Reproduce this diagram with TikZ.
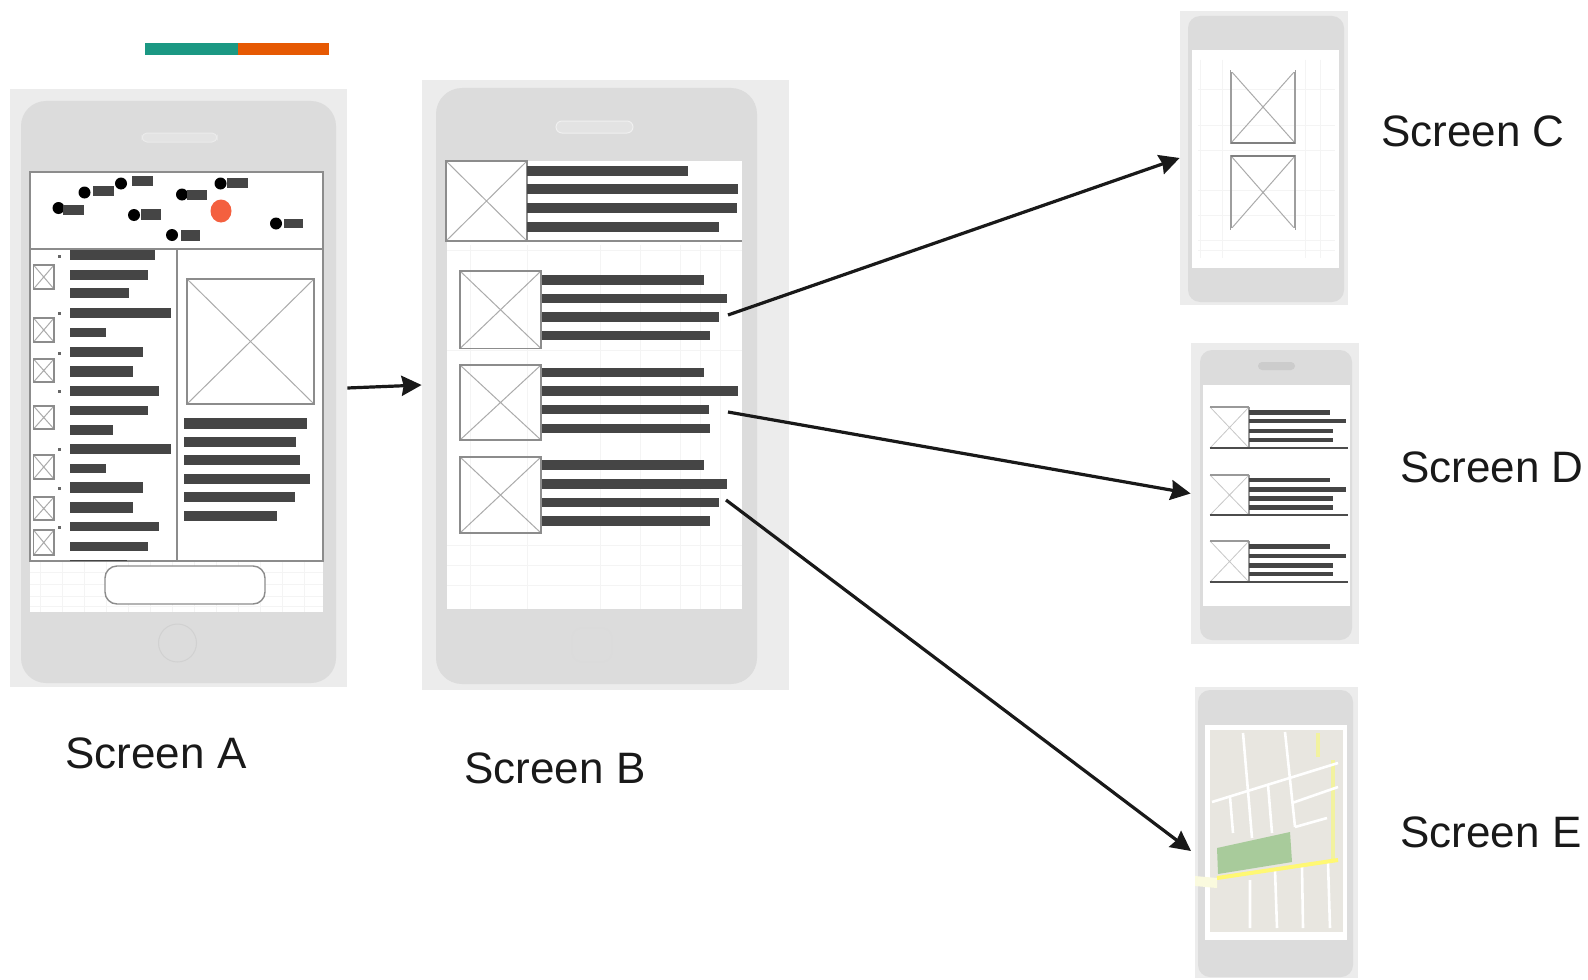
\documentclass[tikz,border=0pt]{standalone}
\usepackage{fontspec}
\setmainfont{Liberation Sans}
\usetikzlibrary{arrows.meta}
\definecolor{barc}{HTML}{454545}
\definecolor{bgc}{HTML}{ECECEC}
\definecolor{bodyc}{HTML}{DCDCDC}
\definecolor{edgec}{HTML}{8C8C8C}
\definecolor{diagc}{HTML}{ABABAB}
\definecolor{gridc}{HTML}{F4F4F4}
\definecolor{mapc}{HTML}{E8E6E0}
\definecolor{parkc}{HTML}{A8CB9B}
\definecolor{yellowc}{HTML}{F2F2A0}
\definecolor{pinred}{HTML}{F4603F}
\newcommand{\tbar}[4]{\fill[barc] (#1,#3) rectangle (#2,#4);}
\newcommand{\xbox}[5][edgec]{%
  \draw[line width=0.5pt,diagc] (#2,#3) -- (#4,#5) (#2,#5) -- (#4,#3);
  \draw[line width=0.7pt,#1] (#2,#3) rectangle (#4,#5);}
\newcommand{\pin}[6]{\fill[black] (#1,#2) circle (6);\fill[barc] (#3,#5) rectangle (#4,#6);}
\newcommand{\shell}[9]{% name, centre, size; radius, body corners; white screen
  \node[screenbg,minimum width=#4,minimum height=#5] (#1) at (#2,#3) {};
  \fill[bodyc,rounded corners=#6] #7 rectangle #8;
  \fill[white] #9;}
\tikzset{
  x=0.5pt,y=-0.5pt,
  screenbg/.style={rectangle,fill=bgc,draw=none,inner sep=0pt},
  flow/.style={line width=1.6pt,draw=black!90,-{Stealth[length=10pt,width=10pt,inset=1pt]}},
  caption/.style={font=\fontsize{22pt}{26pt}\selectfont,text=black!90,inner sep=0pt},
  strip/.style={draw=none,inner sep=0pt,minimum height=6pt},
  road/.style={draw=white,line width=1.3pt},
  faint/.style={draw=gridc,line width=0.5pt}
}
\begin{document}
\begin{tikzpicture}
\useasboundingbox (0,0) rectangle (1588,979);
% accent strip
\node[strip,fill={rgb,255:red,27;green,152;blue,131},minimum width=46.5pt,anchor=west] (stripT) at (145,49) {};
\node[strip,fill={rgb,255:red,230;green,89;blue,3},minimum width=45.5pt,anchor=west] (stripO) at (238,49) {};

%% ---------- Screen A
\shell{screenA}{178.5}{388}{168.5pt}{299pt}{12.5pt}{(21,101)}{(336,683)}{(30,172) rectangle (323,612)}
\draw[faint] \foreach \x in {40,62,84,106,128,150,172,194,216,238,260,282,304} {(\x,562) -- (\x,612)}
  \foreach \y in {572,584,596,606} {(30,\y) -- (323,\y)};
\draw[line width=0.5pt,draw=black!8,fill=black!11,rounded corners=2.5pt] (142,133) rectangle (217,142);
\draw[line width=0.5pt,draw=black!18] (177.5,643) circle (19);
\draw[line width=0.8pt,edgec] (30,172) rectangle (323,249) (30,249) rectangle (323,561) (177,249) -- (177,561);
\pin{58.5}{208}{63}{84}{204.5}{214.5}
\pin{84.5}{192.5}{93}{114}{186}{196}
\pin{121}{183.5}{131.5}{153}{176}{186}
\pin{182}{194.5}{187}{207}{190}{200}
\pin{220.5}{183.5}{227}{248}{178}{188}
\pin{134}{215}{141}{161}{209}{220}
\pin{172}{235}{181}{200}{230}{241}
\pin{276}{223.5}{284}{303}{219}{228}
\fill[pinred] (221,211) ellipse (10.5 and 11.5);
\foreach \a/\b/\c in {155/250/260,148/270/280,129/288/298,171/308/318,106/328/337,143/347/357,133/366/377,159/386/396,148/406/415,113/425/435,171/444/454,106/464/473,143/482/493,133/502/513,159/522/531,148/542/551,127/560/561}
  {\tbar{70}{\a}{\b}{\c}}
\foreach \a/\b in {265/289,318/342,359/382,406/429,455/479,497/520,530/555}
  {\xbox{33.5}{\a}{54}{\b}}
\foreach \a in {256,313,353,391,449,488,527}
  {\fill[black!60] (57.5,\a-1.5) rectangle (60.5,\a+1.5);}
\xbox{187}{279}{314}{404}
\foreach \a/\b/\c in {307/418/429,296/437/447,300/455/465,310/474/484,295/492/502,277/511/521}
  {\tbar{184}{\a}{\b}{\c}}
\draw[line width=0.7pt,edgec,fill=white,rounded corners=6pt] (105,566) rectangle (265,604);

%% ---------- Screen B
\shell{screenB}{605.5}{385}{183.5pt}{305pt}{13pt}{(436,88)}{(757,684)}{(447,161) rectangle (742,609)}
\draw[faint] \foreach \x in {470,527,600,640,680,700,720} {(\x,245) -- (\x,609)}
  \foreach \y in {250,350,545,565,585} {(447,\y) -- (742,\y)};
\draw[line width=0.5pt,draw=black!6,fill=black!11,rounded corners=3pt] (556,121) rectangle (633,133);
\draw[line width=0.5pt,draw=black!14,rounded corners=5pt] (572,628) rectangle (612,662);
\xbox{446}{161}{527}{241}
\draw[line width=0.7pt,edgec] (527,241) -- (742,241);
\foreach \a/\b/\c in {688/166/176,738/184/194,737/203/213,719/222/232}
  {\tbar{527}{\a}{\b}{\c}}
\foreach \a/\b/\c in {704/275/284.5,727/294/303,719/312/322,710/330.5/340,
  704/368/377,738/386/396,709/404.5/414,710/424/433,
  704/460/469.5,727/479/489,719/497.5/507,710/516/526}
  {\tbar{541}{\a}{\b}{\c}}
\xbox{460}{271}{541}{348.5}
\xbox{460}{365}{541}{440}
\xbox{460}{457}{541}{533}

%% ---------- Screen C
\shell{screenC}{1264}{158}{84pt}{147pt}{6pt}{(1188,16)}{(1344,302)}{(1192,50) rectangle (1339,268)}
\draw[faint] \foreach \x in {1200,1222,1305,1320} {(\x,60) -- (\x,258)}
  \foreach \y in {90,125,150,190,215,240,250} {(1198,\y) -- (1335,\y)};
\xbox[black!38]{1231}{71}{1295}{143}
\xbox[black!38]{1231}{156}{1295}{229}
\draw[line width=0.9pt,black!50] (1231,143) -- (1295,143) (1231,156) -- (1295,156);
\draw[line width=0.9pt,white] (1231,71) -- (1295,71) (1231,229) -- (1295,229);

%% ---------- Screen D
\shell{screenD}{1275}{493.5}{84pt}{150.5pt}{6pt}{(1200,350)}{(1352,640)}{(1203,385) rectangle (1350,606)}
\fill[black!20,rounded corners=2pt] (1258,362) rectangle (1295,370);
\foreach \t/\bt in {407/448,475/515,541/582}{
  \draw[line width=0.4pt,black!22] (1210,\t) -- (1249,\bt) (1210,\bt) -- (1249,\t);
  \draw[line width=0.7pt,black!40] (1210,\t) -- (1249,\t) (1249,\t) -- (1249,\bt);
  \draw[line width=0.8pt,black!70] (1210,\bt) -- (1348,\bt);
}
\foreach \a/\b/\c in {1330/410/414.5,1346/419/423,1333/429/433,1333/438/442,
  1330/478/482,1346/487/492,1333/496/501,1333/505/510,
  1330/544/549,1346/554/558,1333/563/568,1333/572/576}
  {\tbar{1249}{\a}{\b}{\c}}

%% ---------- Screen E
\shell{screenE}{1276.5}{832.5}{81.5pt}{145.5pt}{6pt}{(1198,690)}{(1353,977)}{(1205,725) rectangle (1347,940)}
\fill[mapc] (1210,730) rectangle (1343,932);
\fill[yellowc!35!white] (1195,876) -- (1217,878) -- (1217,888) -- (1195,886) -- cycle;
\draw[yellowc,line width=1.8pt] (1318,733) -- (1318,757) (1333,760) -- (1333,860);
\draw[road] (1212,802) -- (1338,763) (1292,803) -- (1338,787) (1295,827) -- (1327,818);
\draw[road] (1243,733) -- (1252,838) (1285,732) -- (1295,827) (1230,797) -- (1233,833) (1268,785) -- (1272,833);
\draw[road] (1250,880) -- (1250,928) (1275,870) -- (1277,928) (1302,867) -- (1303,928) (1328,863) -- (1330,928);
\fill[parkc] (1217,848) -- (1290,832) -- (1292,862) -- (1218,874) -- cycle;
\draw[yellow!55!white,line width=2pt] (1217,878) -- (1338,860);

%% ---------- Captions
\node[caption] (capA) at (156,753) {Screen A};
\node[caption] (capB) at (555,768) {Screen B};
\node[caption] (capC) at (1473,131) {Screen C};
\node[caption] (capD) at (1492,467) {Screen D};
\node[caption] (capE) at (1491,832) {Screen E};

%% ---------- Connectors
\coordinate (fromC) at (728,315);
\coordinate (fromD) at (728,412);
\coordinate (fromE) at (726,500);
\coordinate (intoE) at (1191,851);
\draw[flow] (screenA.east) -- (screenB.west);
\draw[flow] (fromC) -- (screenC.west);
\draw[flow] (fromD) -- (screenD.west);
\draw[flow] (fromE) -- (intoE);
\end{tikzpicture}
\end{document}
